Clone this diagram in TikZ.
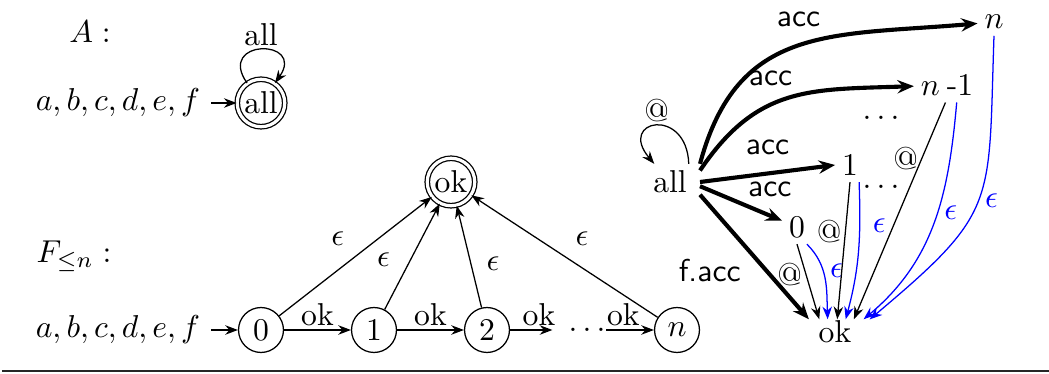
\documentclass[tikz,border=0pt]{standalone}
\usetikzlibrary{arrows.meta}
\begin{document}
\begin{tikzpicture}[x=0.316pt,y=0.316pt,
  st/.style={circle,draw,line width=0.4pt,minimum size=14.2pt,inner sep=0pt},
  accst/.style={circle,draw,line width=0.4pt,minimum size=15pt,inner sep=0pt,double,double distance=1pt},
  pl/.style={inner sep=2pt},
  lab/.style={inner sep=1pt},
  elab/.style={inner sep=2pt,text=blue},
  arr/.style={-{Stealth[length=4pt,width=3pt,inset=1.3pt]},line width=0.4pt},
  thk/.style={-{Stealth[length=5.2pt,width=4.2pt,inset=1.8pt]},line width=1.3pt},
  eps/.style={arr,blue},
  sf/.style={font=\sffamily}]
\useasboundingbox (0,0) rectangle (1049,374);
% ---------- A ----------
\node (Alab) at (90,342) {$A:$};
\node[accst] (allA) at (261,271) {all};
\node (inA) at (118,271) {$a,b,c,d,e,f$};
\draw[arr] (inA) -- (allA);
\draw[arr] (allA) to[out=125,in=55,looseness=5] node[lab,above]{all} (allA);
% ---------- F ----------
\node (Flab) at (74,118) {$F_{\leq n}:$};
\node (inF) at (118,44) {$a,b,c,d,e,f$};
\node[st] (q0) at (261,44) {$0$};
\node[st] (q1) at (374,44) {$1$};
\node[st] (q2) at (487,44) {$2$};
\node[inner sep=0pt] (qd) at (587,44) {$\ldots$};
\node[st] (qn) at (677,44) {$n$};
\node[accst] (okF) at (451,192) {ok};
\draw[arr] (inF) -- (q0);
\draw[arr] (q0) -- node[lab,above]{ok} (q1);
\draw[arr] (q1) -- node[lab,above]{ok} (q2);
\draw[arr,shorten >=4.9pt] (q2) -- node[lab,above]{ok} (qd);
\draw[arr] (qd) -- node[lab,above,pos=0.36]{ok} (qn);
\draw[arr] (q0) -- node[pos=0.5,above left]{$\epsilon$} (okF);
\draw[arr] (q1) -- node[pos=0.3,above left]{$\epsilon$} (okF);
\draw[arr] (q2) -- node[pos=0.25,above right]{$\epsilon$} (okF);
\draw[arr] (qn) -- node[pos=0.5,above right]{$\epsilon$} (okF);
% ---------- right ----------
\node[inner xsep=4pt,inner ysep=2pt] (all2) at (670,192) {all};
\node[pl] (nN) at (994,352) {$n$};
\node[pl] (nN1) at (947,289) {$n$\kern2.2pt-1};
\node[pl] (dA) at (881,256) {$\ldots$};
\node[pl] (dB) at (881,187) {$\ldots$};
\node[pl] (r1) at (850,209) {$1$};
\node[pl] (r0) at (797,147) {$0$};
\node[inner xsep=5.6pt,inner ysep=0.3pt] (okR) at (835,42) {ok};
\draw[arr] (all2.44) to[out=92,in=130,looseness=4.3] node[lab,above]{@} (all2.131);
\draw[thk] (all2.north east) to[out=75,in=185,looseness=1.2] node[sf,pos=0.5,above=2pt]{acc} (nN);
\draw[thk] (all2.21) to[out=56,in=182,looseness=1.15] node[sf,pos=0.4,above=2pt]{acc} (nN1);
\draw[thk] (all2.east) -- node[sf,pos=0.5,above=2pt]{acc} (r1.west);
\draw[thk] (all2.-8) -- node[sf,pos=0.85,above=2pt]{acc} (r0);
\draw[thk] (all2.-23) -- node[sf,inner sep=2pt,pos=0.45,below left]{f.acc} (okR.154);
\draw[arr] (r0.south) -- node[lab,left,pos=0.4]{@} (okR.141);
\draw[eps] (r0.-60) to[out=-45,in=92] node[elab,right,pos=0.4]{$\epsilon$} (okR.120);
\draw[arr] (r1.south) -- node[lab,left,pos=0.36]{@} (okR.80);
\draw[eps] (r1.-62) to[out=-88,in=75] node[elab,right=2pt,pos=0.3]{$\epsilon$} (okR.50);
\draw[arr] (nN1.-95) -- node[lab,left,pos=0.26]{@} (okR.34);
\draw[eps] (nN1.-61) to[out=-95,in=40] node[elab,right,pos=0.45]{$\epsilon$} (okR.24);
\draw[eps] (nN.south) to[out=-92,in=40,looseness=1.4] node[elab,right,pos=0.5]{$\epsilon$} (okR.20);
% ---------- rule ----------
\draw[line width=0.6pt,black!85] (2,3) -- (1049,3);
\end{tikzpicture}
\end{document}
